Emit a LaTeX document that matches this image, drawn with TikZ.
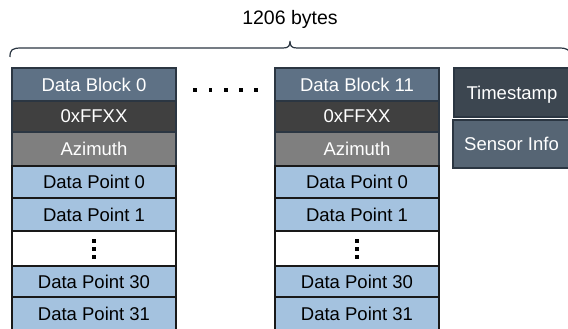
\documentclass[tikz,border=0pt]{standalone}
\usepackage{fontspec}
\setmainfont{Liberation Sans}
\definecolor{blockhdr}{HTML}{5E7185}
\definecolor{syncrow}{HTML}{404040}
\definecolor{azirow}{HTML}{7F7F7F}
\definecolor{pointrow}{HTML}{A4C2DF}
\definecolor{stampbox}{HTML}{3C4650}
\definecolor{infobox}{HTML}{566574}
\definecolor{edgeslate}{HTML}{2B3642}
\tikzset{
  cell/.style={draw, line width=1.1pt, minimum width=164pt, inner sep=0pt,
    outer sep=0pt, text depth=0pt, font=\fontsize{18.5}{20}\selectfont},
  hdrcell/.style={cell, draw=edgeslate, text=white},
  ptcell/.style={cell, draw=black!90, fill=pointrow, text=black},
  sidebox/.style={draw=edgeslate, line width=1.1pt, inner sep=0pt, outer sep=0pt,
    text=white, text depth=0pt, font=\fontsize{18.5}{20}\selectfont},
}
\begin{document}
\begin{tikzpicture}[x=1pt, y=-1pt]
\useasboundingbox (0,0) rectangle (568,329);

% size label and brace over the whole packet
\node[font=\fontsize{19.5}{22}\selectfont] (total) at (290,19) {1206 bytes};
\draw[edgeslate, line width=1.2pt]
  (10,57) .. controls (10,49.5) and (12,48) .. (22,48) -- (283,48)
  .. controls (288.5,48) and (290,46) .. (290,41)
  .. controls (290,46) and (291.5,48) .. (297,48) -- (558,48)
  .. controls (568,48) and (570,49.5) .. (570,57);

% the two data block columns
\foreach \cx/\p/\n in {94/a/0, 357/b/11} {
  \node[hdrcell, fill=blockhdr, minimum height=33pt] (\p blk) at (\cx,84.5) {Data Block \n};
  \node[hdrcell, fill=syncrow,  minimum height=31pt] (\p flag) at (\cx,116.5) {0xFFXX};
  \node[hdrcell, fill=azirow,   minimum height=34pt] (\p azi) at (\cx,149) {Azimuth};
  \node[ptcell, minimum height=32pt] (\p pt0) at (\cx,182) {Data Point 0};
  \node[ptcell, minimum height=33pt] (\p pt1) at (\cx,214.5) {Data Point 1};
  \node[cell, draw=black!90, fill=white, minimum height=35pt] (\p gap) at (\cx,248.5) {};
  \node[ptcell, minimum height=31pt] (\p pt30) at (\cx,281.5) {Data Point 30};
  \node[ptcell, minimum height=33pt] (\p pt31) at (\cx,313.5) {Data Point 31};
  % vertical ellipsis inside the gap row
  \foreach \dy in {-10,-2,6}
    \fill[black] ([xshift=-1.8pt, yshift=\dy pt]\p gap.center) rectangle ++(3.6pt,3.6pt);
}

% horizontal ellipsis between the columns
\foreach \dx in {195,210.5,226,241,256}
  \fill[black] (\dx-1.7,88.2) rectangle (\dx+1.7,91.8);

% trailer fields
\node[sidebox, fill=stampbox, minimum width=116pt, minimum height=49pt] (stamp) at (512,92.5) {Timestamp};
\node[sidebox, fill=infobox, minimum width=117pt, minimum height=48pt] (info) at (511.5,144) {Sensor Info};
\end{tikzpicture}
\end{document}
